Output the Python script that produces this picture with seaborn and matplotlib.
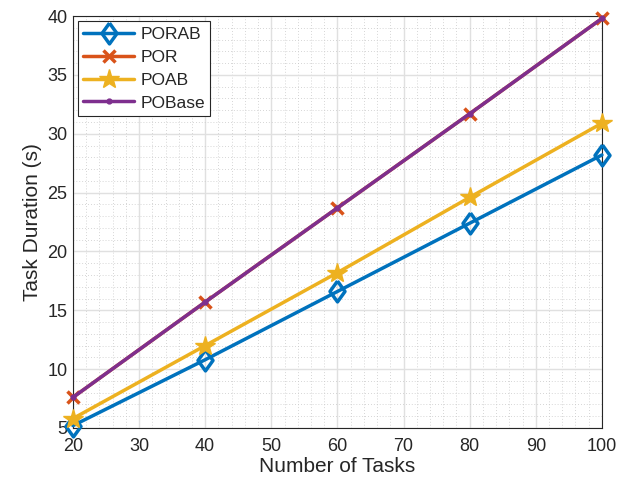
import numpy as np
import pandas as pd
import matplotlib
matplotlib.use("Agg")
import matplotlib.pyplot as plt
import seaborn as sns
from matplotlib.ticker import MultipleLocator

tasks = [20, 40, 60, 80, 100]
porab = [5.2, 10.8, 16.6, 22.4, 28.2]
por = [7.6, 15.7, 23.7, 31.7, 39.8]
poab = [5.8, 12.0, 18.2, 24.6, 30.9]
pobase = [7.6, 15.7, 23.7, 31.7, 39.8]
series_names = ["PORAB", "POR", "POAB", "POBase"]

df = pd.DataFrame({
    "tasks": tasks * 4,
    "value": porab + por + poab + pobase,
    "series": sum([[n] * len(tasks) for n in series_names], []),
})

sns.set_style("white")
plt.rcParams['font.family'] = ['Liberation Sans', 'DejaVu Sans']

colors = {"PORAB": "#0072BD", "POR": "#D95319", "POAB": "#EDB120", "POBase": "#7E2F8E"}
diamond = [(0, 1), (0.72, 0), (0, -1), (-0.72, 0), (0, 1)]
styles = {
    "PORAB": dict(marker=diamond, markersize=15, markerfacecolor="none", markeredgewidth=2.5),
    "POR": dict(marker="x", markersize=9, markeredgewidth=2.5),
    "POAB": dict(marker="*", markersize=15, markeredgewidth=1.0),
    "POBase": dict(marker="o", markersize=3.5, markeredgewidth=1.0),
}

fig = plt.figure(figsize=(6.18, 4.88), dpi=100)
ax = fig.add_axes([0.118, 0.123, 0.856, 0.844])

for name in series_names:
    sub = df[df.series == name]
    kw = dict(linewidth=2.5, color=colors[name], label=name, markeredgecolor=colors[name], clip_on=False)
    kw.update(styles[name])
    sns.lineplot(x=sub.tasks, y=sub.value, ax=ax, **kw)

ax.set_xlim(20, 100)
ax.set_ylim(5, 40)
ax.set_xticks([20, 30, 40, 50, 60, 70, 80, 90, 100])
ax.set_yticks([5, 10, 15, 20, 25, 30, 35, 40])
ax.xaxis.set_minor_locator(MultipleLocator(2))
ax.yaxis.set_minor_locator(MultipleLocator(1))
ax.grid(True, which="major", color="#e0e0e0", linewidth=1.0, linestyle="-")
ax.grid(True, which="minor", color="#c8c8c8", linewidth=0.6, linestyle=(0, (1, 2.5)))
ax.set_axisbelow(True)
ax.tick_params(axis="x", which="major", pad=7)
ax.tick_params(axis="y", which="major", pad=4)
ax.tick_params(axis="both", which="major", labelsize=13, direction="in", length=5, color="#262626", labelcolor="#262626")
ax.tick_params(axis="both", which="minor", length=0)
for s in ax.spines.values():
    s.set_color("#262626")
    s.set_linewidth(0.8)
    s.set_zorder(1.5)
ax.set_xlabel("Number of Tasks", fontsize=15, color="#262626", labelpad=2)
ax.set_ylabel("Task Duration (s)", fontsize=15, color="#262626", labelpad=4)

leg = ax.legend(loc="upper left", fontsize=12.5, frameon=True, fancybox=False, edgecolor="#262626",
                framealpha=1, borderpad=0.3, handlelength=2.9, handletextpad=0.4,
                labelspacing=0.45, borderaxespad=0.3)
leg.get_frame().set_linewidth(0.8)

fig.savefig("out.png", dpi=100)
